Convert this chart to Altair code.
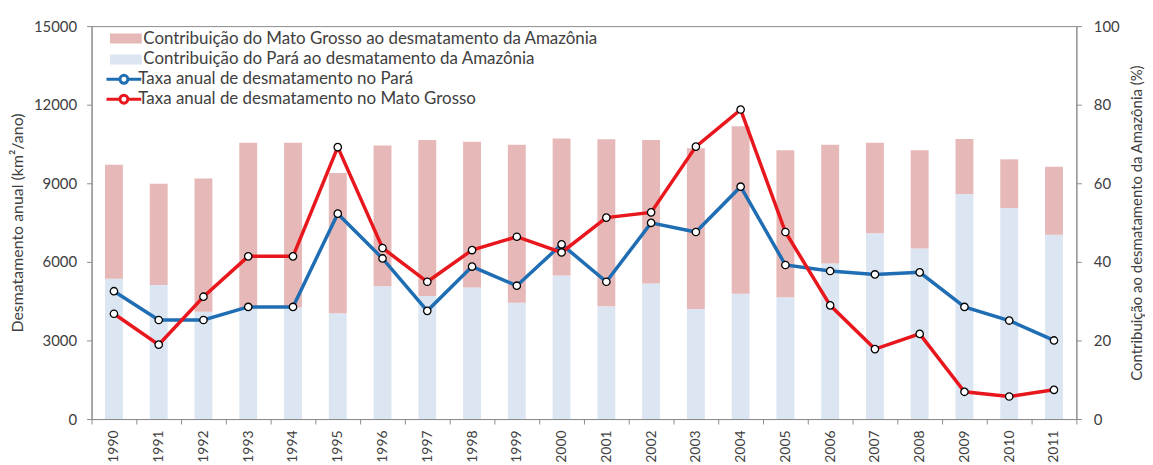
import altair as alt
import pandas as pd

years = [str(y) for y in range(1990, 2012)]

# Taxa anual de desmatamento (km2/ano) - eixo esquerdo
para_rate = [4880, 3780, 3780, 4280, 4280, 7840, 6130, 4130, 5820, 5090, 6670,
             5240, 7490, 7140, 8870, 5880, 5650, 5520, 5600, 4280, 3760, 3000]
mt_rate = [4020, 2840, 4670, 6210, 6210, 10380, 6530, 5240, 6450, 6960, 6360,
           7690, 7890, 10400, 11815, 7140, 4340, 2670, 3250, 1040, 860, 1115]

# Contribuição ao desmatamento da Amazônia (%) - eixo direito (empilhado)
para_share = [35.7, 34.1, 27.3, 28.2, 28.4, 26.9, 33.8, 31.3, 33.5, 29.6, 36.5,
              28.7, 34.5, 28.0, 31.9, 31.0, 39.6, 47.3, 43.4, 57.3, 53.7, 46.9]
mt_share = [29.0, 25.8, 33.9, 42.1, 41.9, 35.7, 35.8, 39.7, 37.1, 40.2, 34.9,
            42.5, 36.5, 40.9, 42.6, 37.4, 30.2, 23.0, 25.0, 14.0, 12.4, 17.3]

LBL_MT_BAR = "Contribuição do Mato Grosso ao desmatamento da Amazônia"
LBL_PA_BAR = "Contribuição do Pará ao desmatamento da Amazônia"
LBL_PA_LINE = "Taxa anual de desmatamento no Pará"
LBL_MT_LINE = "Taxa anual de desmatamento no Mato Grosso"

n = len(years)
bars_df = pd.DataFrame({
    "ano": years * 2,
    "serie": [LBL_PA_BAR] * n + [LBL_MT_BAR] * n,
    "valor": para_share + mt_share,
    "ordem": [0] * n + [1] * n,
})
lines_df = pd.DataFrame({
    "ano": years * 2,
    "serie": [LBL_PA_LINE] * n + [LBL_MT_LINE] * n,
    "valor": para_rate + mt_rate,
})

FONT = "Lato"
TXT = "#404040"
AX = "#8c8c8c"

x_enc = alt.X(
    "ano:N", title=None, sort=years,
    scale=alt.Scale(paddingInner=0, paddingOuter=0),
    axis=alt.Axis(labelAngle=270, tickBand="extent", tickSize=5,
                  labelPadding=6, labelFontSize=14),
)

bars = alt.Chart(bars_df).mark_bar(size=18).encode(
    x=x_enc,
    y=alt.Y("valor:Q", stack="zero",
            scale=alt.Scale(domain=[0, 100], nice=False),
            axis=alt.Axis(orient="right", values=[0, 20, 40, 60, 80, 100],
                          title="Contribuição ao desmatamento da Amazônia (%)",
                          titleAngle=270, tickSize=5, labelPadding=12,
                          titlePadding=25, titleFontSize=15)),
    fill=alt.Fill("serie:N",
                  scale=alt.Scale(domain=[LBL_MT_BAR, LBL_PA_BAR],
                                  range=["#E6B9B8", "#DCE6F2"]),
                  legend=alt.Legend(title=None, orient="none", legendX=26, legendY=4,
                                    symbolType="M-3.2,-1H3.2V1H-3.2Z",
                                    symbolSize=100, symbolStrokeWidth=0,
                                    labelFontSize=17, labelOffset=9,
                                    rowPadding=3, padding=0)),
    order=alt.Order("ordem:Q", sort="ascending"),
)

y_left = alt.Y("valor:Q", scale=alt.Scale(domain=[0, 15000], nice=False),
               axis=alt.Axis(orient="left", values=[0, 3000, 6000, 9000, 12000, 15000],
                             format="d",
                             title="Desmatamento anual (km²/ano)",
                             tickSize=5, labelPadding=10, titlePadding=8,
                             titleFontSize=16))

lines = alt.Chart(lines_df).mark_line(strokeWidth=3.5).encode(
    x=x_enc,
    y=y_left,
    stroke=alt.Stroke("serie:N",
                      scale=alt.Scale(domain=[LBL_PA_LINE, LBL_MT_LINE],
                                      range=["#1F6DB3", "#E8171D"]),
                      legend=alt.Legend(title=None, orient="none", legendX=24, legendY=45,
                                        symbolType="M-3.5,0H-0.8M0.8,0H3.5M0.8,0A0.8,0.8,0,1,1,-0.8,0A0.8,0.8,0,1,1,0.8,0Z",
                                        symbolSize=100, symbolStrokeWidth=3,
                                        symbolFillColor="white",
                                        labelFontSize=17, labelOffset=6,
                                        rowPadding=-1, padding=0)),
)

points = alt.Chart(lines_df).mark_point(filled=True, fill="white", stroke="black",
                                        strokeWidth=1.3, size=55, opacity=1).encode(
    x=x_enc,
    y=y_left,
)

chart = alt.layer(bars, alt.layer(lines, points)).resolve_scale(
    y="independent", fill="independent", stroke="independent"
).properties(
    width=990, height=395,
    autosize=alt.AutoSizeParams(type="none"),
    padding={"left": 84, "top": 17, "right": 69, "bottom": 44},
).configure_view(
    stroke=AX, strokeWidth=1
).configure_axis(
    grid=False, domainColor=AX, tickColor=AX, labelFont=FONT, titleFont=FONT,
    labelColor=TXT, titleColor=TXT, labelFontSize=15, titleFontWeight="normal",
).configure_legend(
    labelFont=FONT, labelColor=TXT, labelLimit=600,
)

chart.save("out.html", embed_options={"renderer": "svg", "actions": False})
